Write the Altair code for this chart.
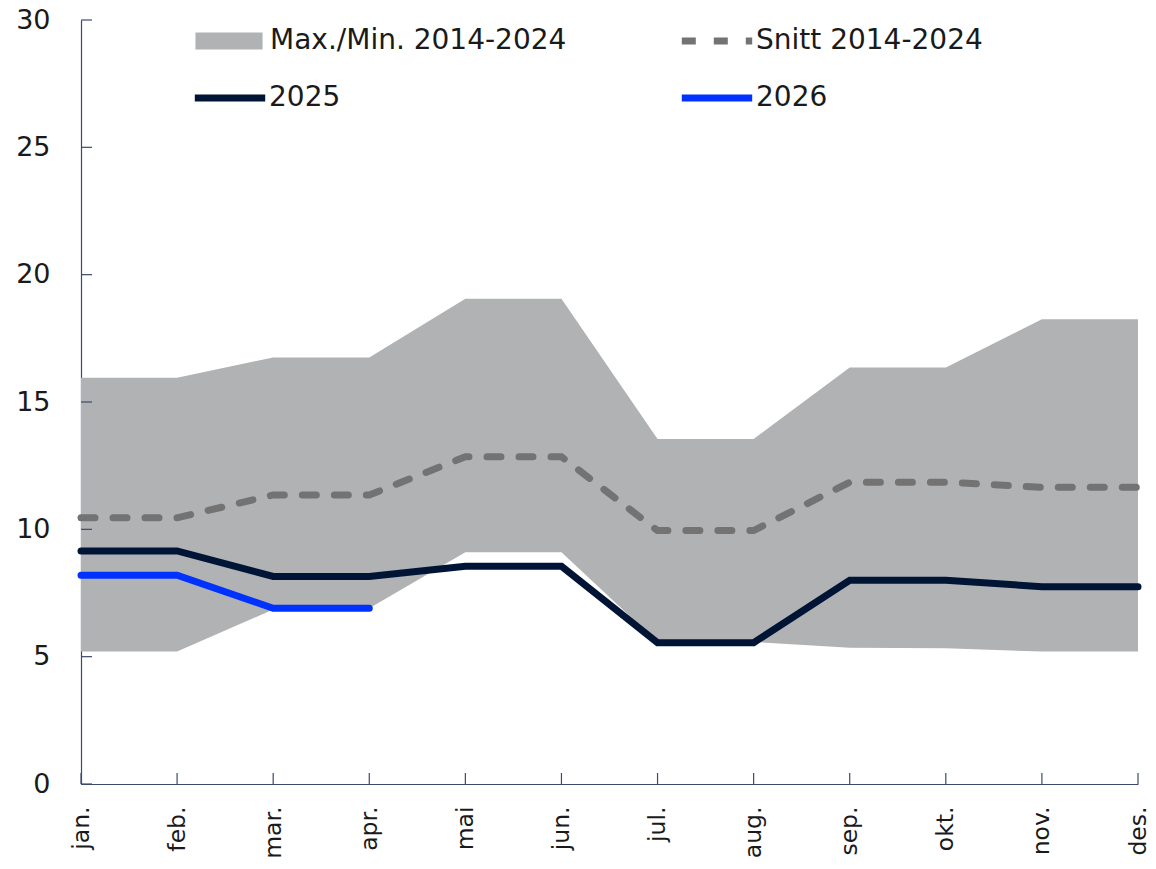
import altair as alt
import pandas as pd

months = ["jan.", "feb.", "mar.", "apr.", "mai", "jun.", "jul.", "aug.", "sep.", "okt.", "nov.", "des."]
band_max = [15.95, 15.95, 16.75, 16.75, 19.05, 19.05, 13.55, 13.55, 16.35, 16.35, 18.25, 18.25]
band_min = [5.2, 5.2, 6.85, 6.9, 9.1, 9.1, 5.58, 5.58, 5.35, 5.33, 5.2, 5.2]
snitt = [10.45, 10.45, 11.35, 11.35, 12.85, 12.85, 9.95, 9.95, 11.85, 11.85, 11.65, 11.65]
y2025 = [9.15, 9.15, 8.15, 8.15, 8.55, 8.55, 5.55, 5.55, 8.0, 8.0, 7.75, 7.75]
y2026 = [8.2, 8.2, 6.9, 6.9]
y_ticks = [0, 5, 10, 15, 20, 25, 30]

band_name, snitt_name, name25, name26 = "Max./Min. 2014-2024", "Snitt 2014-2024", "2025", "2026"
c_band, c_snitt, c25, c26 = "#b1b2b4", "#737373", "#001536", "#0032ff"

FONT = "DejaVu Sans"
AXIS_COLOR = "#3b4a6b"
W, H = 1057, 764
LINE_W = 7
LINE_PATH = "M-6.4,0H6.4"
BOX_PATH = "M-6.1,-1.55H6.1V1.55H-6.1Z"

band_df = pd.DataFrame({"month": months, "lo": band_min, "hi": band_max, "serie": band_name})
snitt_df = pd.DataFrame({"month": months, "value": snitt, "serie": snitt_name})
df25 = pd.DataFrame({"month": months, "value": y2025, "serie": name25})
df26 = pd.DataFrame({"month": months[:len(y2026)], "value": y2026, "serie": name26})
ytick_df = pd.DataFrame({"v": y_ticks})
xtick_df = pd.DataFrame({"month": months})

y_scale = alt.Scale(domain=[0, 30], nice=False)
x_enc = alt.X(
    "month:N",
    sort=months,
    scale=alt.Scale(type="point", padding=0),
    axis=alt.Axis(
        title=None, labelAngle=-90, labelAlign="right", labelBaseline="middle",
        labelPadding=22, labelFontSize=23.5, labelFont=FONT, labelColor="#1a1a1a",
        ticks=False, domainColor=AXIS_COLOR, domainWidth=1.2, grid=False,
    ),
)
y_axis = alt.Axis(
    title=None, values=y_ticks, labelFontSize=27, labelFont=FONT, labelColor="#1a1a1a",
    labelPadding=31, ticks=False, domainColor=AXIS_COLOR, domainWidth=1.2, grid=False,
)


def line_legend(x, y, color=None):
    kw = dict(
        title=None, orient="none", legendX=x, legendY=y, padding=0,
        symbolType=LINE_PATH, symbolSize=121, symbolStrokeWidth=LINE_W,
        labelFont=FONT, labelFontSize=28, labelColor="#1a1a1a", labelOffset=25,
        labelLimit=500,
    )
    if color:
        kw["symbolStrokeColor"] = color
    return alt.Legend(**kw)


band = alt.Chart(band_df).mark_area(opacity=1).encode(
    x=x_enc,
    y=alt.Y("lo:Q", scale=y_scale, axis=y_axis),
    y2="hi:Q",
    color=alt.Color(
        "serie:N",
        scale=alt.Scale(domain=[band_name], range=[c_band]),
        legend=alt.Legend(
            title=None, orient="none", legendX=134, legendY=7, padding=0,
            symbolType=BOX_PATH, symbolSize=121, symbolStrokeWidth=0,
            symbolFillColor=c_band, symbolOpacity=1,
            labelFont=FONT, labelFontSize=28, labelColor="#1a1a1a", labelOffset=27,
            labelLimit=500,
        ),
    ),
)

mean_line = alt.Chart(snitt_df).mark_line(
    color=c_snitt, strokeWidth=LINE_W, strokeCap="round"
).encode(
    x=alt.X("month:N", sort=months),
    y=alt.Y("value:Q", scale=y_scale),
    strokeDash=alt.StrokeDash(
        "serie:N",
        scale=alt.Scale(domain=[snitt_name], range=[[14, 18]]),
        legend=line_legend(622, 7, c_snitt),
    ),
)

line25 = alt.Chart(df25).mark_line(strokeWidth=LINE_W, strokeCap="round").encode(
    x=alt.X("month:N", sort=months),
    y=alt.Y("value:Q", scale=y_scale),
    color=alt.Color(
        "serie:N",
        scale=alt.Scale(domain=[name25], range=[c25]),
        legend=line_legend(135, 64),
    ),
)

line26 = alt.Chart(df26).mark_line(strokeWidth=LINE_W, strokeCap="round").encode(
    x=alt.X("month:N", sort=months),
    y=alt.Y("value:Q", scale=y_scale),
    color=alt.Color(
        "serie:N",
        scale=alt.Scale(domain=[name26], range=[c26]),
        legend=line_legend(622, 64),
    ),
)

yticks = alt.Chart(ytick_df).mark_rule(color=AXIS_COLOR, strokeWidth=1.2).encode(
    y=alt.Y("v:Q", scale=y_scale),
    x=alt.value(0),
    x2=alt.value(11),
)
xticks = alt.Chart(xtick_df).mark_rule(color=AXIS_COLOR, strokeWidth=1.2).encode(
    x=alt.X("month:N", sort=months),
    y=alt.value(H),
    y2=alt.value(H - 11),
)

chart = alt.layer(band, mean_line, line25, line26, yticks, xticks).resolve_scale(
    color="independent", strokeDash="independent"
).properties(
    width=W, height=H,
    autosize=alt.AutoSizeParams(type="none"),
    padding={"left": 73, "top": 12, "right": 10, "bottom": 77},
).configure_view(stroke=None)

chart.save("out.html", embed_options={"renderer": "svg", "actions": False})
